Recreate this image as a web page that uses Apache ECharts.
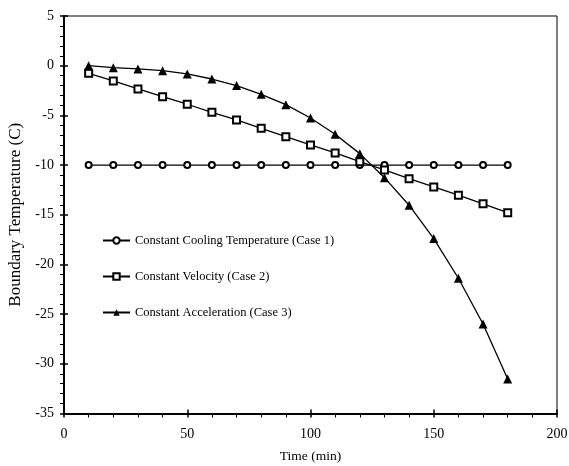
<!DOCTYPE html>
<html><head><meta charset="utf-8">
<script src="https://cdn.jsdelivr.net/npm/echarts@6/dist/echarts.min.js"></script>
<style>html,body{margin:0;padding:0;background:#fff}#c{width:569px;height:466px}</style>
</head><body><div id="c"></div>
<script>
const times = [10,20,30,40,50,60,70,80,90,100,110,120,130,140,150,160,170,180];
const case1 = [-10,-10,-10,-10,-10,-10,-10,-10,-10,-10,-10,-10,-10,-10,-10,-10,-10,-10];
const case2 = [-0.77,-1.54,-2.34,-3.12,-3.88,-4.69,-5.46,-6.3,-7.14,-7.98,-8.78,-9.66,-10.49,-11.37,-12.2,-13.03,-13.9,-14.79];
const case3 = [0,-0.2,-0.33,-0.5,-0.83,-1.34,-2.0,-2.88,-3.92,-5.26,-6.9,-8.85,-11.27,-14.04,-17.4,-21.39,-25.99,-31.52];
const seriesNames = ['Constant Cooling Temperature (Case 1)','Constant Velocity (Case 2)','Constant Acceleration (Case 3)'];
const xTitle = 'Time (min)';
const yTitle = 'Boundary Temperature (C)';

const font = 'Liberation Serif';
const pair = (ys) => times.map((t,i)=>[t, ys[i]]);
const grid = {left:64, right:12, top:16, bottom:52.5, show:true, borderColor:'#000', borderWidth:1,
              containLabel:false, outerBoundsMode:'none'};
const chart = echarts.init(document.getElementById('c'), null, {renderer:'canvas'});
const baseX = {type:'value', min:0, max:200, interval:50, gridIndex:0};
const baseY = {type:'value', min:-35, max:5, interval:5, gridIndex:0};
chart.setOption({
  animation:false,
  backgroundColor:'#fff',
  grid: grid,
  xAxis:[
    Object.assign({}, baseX, {
      position:'bottom',
      name:xTitle, nameLocation:'middle', nameGap:36,
      nameTextStyle:{fontFamily:font, fontSize:13.5, color:'#000'},
      axisLine:{show:true, onZero:false, lineStyle:{color:'#000', width:2}},
      axisTick:{show:true, length:4, lineStyle:{color:'#000', width:1.5}},
      minorTick:{show:true, splitNumber:5, length:4, lineStyle:{color:'#000', width:1}},
      axisLabel:{fontFamily:font, fontSize:14, color:'#000', margin:14},
      splitLine:{show:false}
    }),
    Object.assign({}, baseX, {
      position:'bottom',
      axisLine:{show:false, onZero:false},
      axisTick:{show:true, inside:true, length:4, lineStyle:{color:'#000', width:1.5}},
      axisLabel:{show:false}, splitLine:{show:false}
    })
  ],
  yAxis:[
    Object.assign({}, baseY, {
      position:'left',
      name:yTitle, nameLocation:'middle', nameGap:36, nameRotate:90,
      nameTextStyle:{fontFamily:font, fontSize:17, color:'#000'},
      axisLine:{show:true, onZero:false, lineStyle:{color:'#000', width:2}},
      axisTick:{show:true, length:4, lineStyle:{color:'#000', width:1.5}},
      minorTick:{show:true, splitNumber:5, length:4, lineStyle:{color:'#000', width:1}},
      axisLabel:{fontFamily:font, fontSize:14, color:'#000', margin:10},
      splitLine:{show:false}
    }),
    Object.assign({}, baseY, {
      position:'left',
      axisLine:{show:false, onZero:false},
      axisTick:{show:true, inside:true, length:4, lineStyle:{color:'#000', width:1.5}},
      axisLabel:{show:false}, splitLine:{show:false}
    })
  ],
  legend:{
    orient:'vertical', left:97, top:229, itemGap:23, itemWidth:27, itemHeight:8,
    textStyle:{fontFamily:font, fontSize:12.5, color:'#000'},
    data:seriesNames
  },
  series:[
    {name:seriesNames[0], type:'line', data:pair(case1), symbol:'circle', symbolSize:6,
     lineStyle:{color:'#000', width:1.3}, itemStyle:{color:'#fff', borderColor:'#000', borderWidth:2}},
    {name:seriesNames[1], type:'line', data:pair(case2), symbol:'rect', symbolSize:7,
     lineStyle:{color:'#000', width:1.3}, itemStyle:{color:'#fff', borderColor:'#000', borderWidth:2}},
    {name:seriesNames[2], type:'line', data:pair(case3), symbol:'triangle', symbolSize:9,
     lineStyle:{color:'#000', width:1.3}, itemStyle:{color:'#000', borderColor:'#000', borderWidth:0}}
  ]
});
</script></body></html>
